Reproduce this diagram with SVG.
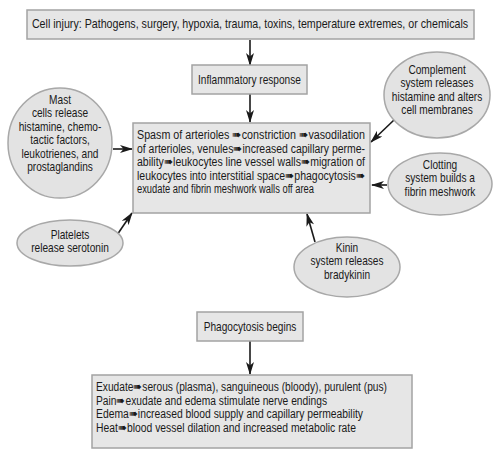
<svg xmlns="http://www.w3.org/2000/svg" width="500" height="453" viewBox="0 0 500 453">
<style>
.box{fill:#e6e6e6;stroke:#a3a3a3;stroke-width:1.5}
.ell{fill:#e3e3e3;stroke:#a8a8a8;stroke-width:1.5}
text{font-family:"Liberation Sans",Arial,sans-serif;font-size:12.5px;fill:#1a1a1a}
.c{text-anchor:middle;transform:scaleX(0.81);transform-box:fill-box;transform-origin:center}
.con{stroke:#1a1a1a;stroke-width:1.6;fill:none;marker-end:url(#ah)}
</style>
<defs>
<marker id="ah" viewBox="0 0 13 8" refX="12" refY="4" markerWidth="13" markerHeight="8" markerUnits="userSpaceOnUse" orient="auto">
<path d="M0,0 L13,4 L0,8 L3.5,4 Z" fill="#1a1a1a"/>
</marker>
</defs>
<rect width="500" height="453" fill="#fff"/>
<g id="connectors">
<line class="con" x1="250" y1="40" x2="250" y2="65"/>
<line class="con" x1="250" y1="94" x2="250" y2="122"/>
<line class="con" x1="113" y1="149" x2="132" y2="149"/>
<line class="con" x1="117" y1="235" x2="132" y2="213"/>
<line class="con" x1="394" y1="120" x2="371" y2="142"/>
<line class="con" x1="387" y1="185" x2="372" y2="185"/>
<line class="con" x1="315" y1="242" x2="307" y2="214"/>
<line class="con" x1="250" y1="341" x2="250" y2="374"/>
</g>
<g id="cell-injury">
<rect class="box" x="27" y="10" width="447" height="29"/>
<text class="c" x="250" y="28" style="transform:scaleX(0.855)">Cell injury: Pathogens, surgery, hypoxia, trauma, toxins, temperature extremes, or chemicals</text>
</g>
<g id="inflammatory">
<rect class="box" x="192" y="65" width="115" height="29"/>
<text class="c" x="249.5" y="84">Inflammatory response</text>
</g>
<g id="main">
<rect class="box" x="133" y="123" width="237" height="90"/>
<text x="137" y="139" textLength="228" lengthAdjust="spacingAndGlyphs">Spasm of arterioles ➠constriction ➠vasodilation</text>
<text x="137" y="152.5" textLength="228" lengthAdjust="spacingAndGlyphs">of arterioles, venules➠increased capillary perme-</text>
<text x="137" y="166" textLength="228" lengthAdjust="spacingAndGlyphs">ability➠leukocytes line vessel walls➠migration of</text>
<text x="137" y="179.5" textLength="228" lengthAdjust="spacingAndGlyphs">leukocytes into interstitial space➠phagocytosis➠</text>
<text x="137" y="193" textLength="177" lengthAdjust="spacingAndGlyphs">exudate and fibrin meshwork walls off area</text>
</g>
<g id="mast">
<ellipse class="ell" cx="60" cy="143" rx="52" ry="55"/>
<text class="c" x="60" y="104">Mast</text>
<text class="c" x="60" y="117.5">cells release</text>
<text class="c" x="60" y="131">histamine, chemo-</text>
<text class="c" x="60" y="144.5">tactic factors,</text>
<text class="c" x="60" y="158">leukotrienes, and</text>
<text class="c" x="60" y="171.5">prostaglandins</text>
</g>
<g id="platelets">
<ellipse class="ell" cx="70" cy="243" rx="53" ry="23"/>
<text class="c" x="70" y="239">Platelets</text>
<text class="c" x="70" y="252.5">release serotonin</text>
</g>
<g id="complement">
<ellipse class="ell" cx="437" cy="95" rx="53" ry="43"/>
<text class="c" x="437" y="74">Complement</text>
<text class="c" x="437" y="87.5">system releases</text>
<text class="c" x="437" y="101">histamine and alters</text>
<text class="c" x="437" y="114.5">cell membranes</text>
</g>
<g id="clotting">
<ellipse class="ell" cx="440" cy="184" rx="52" ry="31"/>
<text class="c" x="440" y="169">Clotting</text>
<text class="c" x="440" y="182.5">system builds a</text>
<text class="c" x="440" y="196">fibrin meshwork</text>
</g>
<g id="kinin">
<ellipse class="ell" cx="347" cy="267" rx="53" ry="30"/>
<text class="c" x="347" y="252">Kinin</text>
<text class="c" x="347" y="265.5">system releases</text>
<text class="c" x="347" y="279">bradykinin</text>
</g>
<g id="phagocytosis">
<rect class="box" x="197" y="312" width="106" height="29"/>
<text class="c" x="250" y="331">Phagocytosis  begins</text>
</g>
<g id="signs">
<rect class="box" x="92" y="375" width="320" height="73"/>
<text x="96" y="391" textLength="291" lengthAdjust="spacingAndGlyphs">Exudate➠serous (plasma), sanguineous (bloody), purulent (pus)</text>
<text x="96" y="404.5" textLength="231" lengthAdjust="spacingAndGlyphs">Pain➠exudate and edema stimulate nerve endings</text>
<text x="96" y="418" textLength="267" lengthAdjust="spacingAndGlyphs">Edema➠increased blood supply and capillary permeability</text>
<text x="96" y="431.5" textLength="260" lengthAdjust="spacingAndGlyphs">Heat➠blood vessel dilation and increased metabolic rate</text>
</g>
</svg>
